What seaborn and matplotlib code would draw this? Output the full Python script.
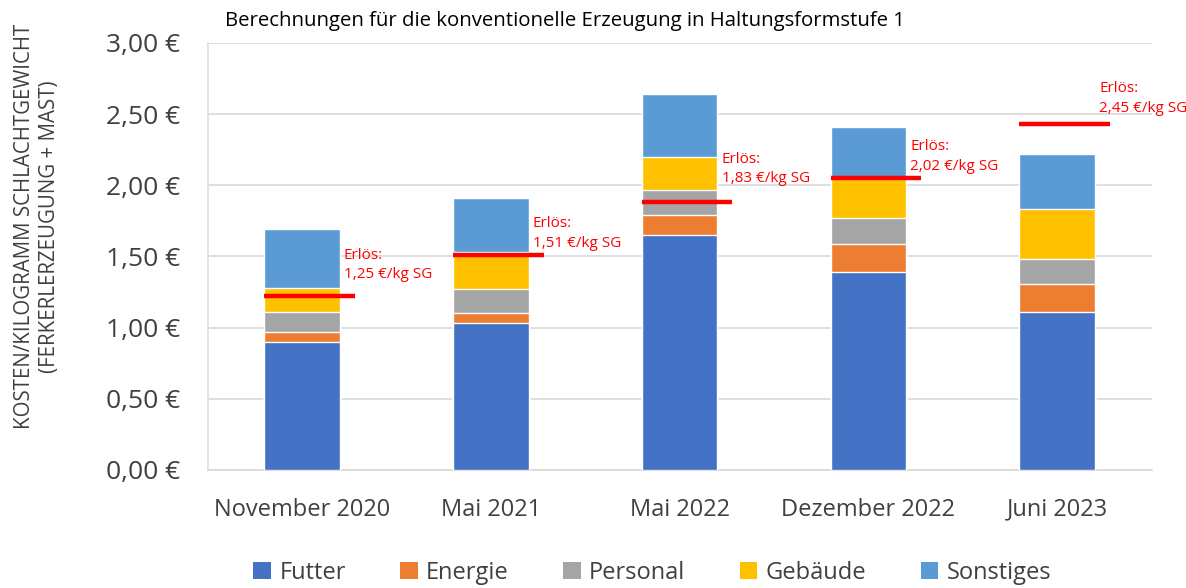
import matplotlib
matplotlib.use("Agg")
import matplotlib.pyplot as plt
import seaborn as sns
import numpy as np
import pandas as pd
from matplotlib.patches import Patch

# ---- data ----
months = ["November 2020", "Mai 2021", "Mai 2022", "Dezember 2022", "Juni 2023"]
futter = [0.90, 1.03, 1.65, 1.39, 1.11]
energie = [0.07, 0.07, 0.14, 0.20, 0.20]
personal = [0.14, 0.17, 0.18, 0.18, 0.17]
gebaeude = [0.17, 0.26, 0.23, 0.29, 0.35]
sonstiges = [0.41, 0.38, 0.44, 0.35, 0.39]
erloes = [1.22, 1.51, 1.88, 2.05, 2.43]
erloes_labels = ["1,25 €/kg SG", "1,51 €/kg SG", "1,83 €/kg SG", "2,02 €/kg SG", "2,45 €/kg SG"]
series_names = ["Futter", "Energie", "Personal", "Gebäude", "Sonstiges"]
yticks = [0.0, 0.5, 1.0, 1.5, 2.0, 2.5, 3.0]
ytick_labels = ["0,00 €", "0,50 €", "1,00 €", "1,50 €", "2,00 €", "2,50 €", "3,00 €"]

colors = ["#4472C4", "#ED7D31", "#A5A5A5", "#FFC000", "#5B9BD5"]

sns.set_theme(style="white")
plt.rcParams["font.family"] = ["Open Sans", "DejaVu Sans"]

fig = plt.figure(figsize=(11.86, 5.88), dpi=100)
ax = fig.add_axes([0.175, 0.2007, 0.796, 0.7263])

series = [futter, energie, personal, gebaeude, sonstiges]
cum = np.cumsum(np.array(series), axis=0)

# draw from top (largest cumulative) to bottom
for i in range(len(series) - 1, -1, -1):
    df = pd.DataFrame({"Monat": months, "Wert": cum[i]})
    sns.barplot(data=df, x="Monat", y="Wert", color=colors[i], saturation=1,
                width=0.4, ax=ax, zorder=3, errorbar=None)

# revenue lines and labels
label_dy = [-24, -14, -26, -14, -18]  # px offsets of label second line relative to line
for k, (val, lab) in enumerate(zip(erloes, erloes_labels)):
    ax.hlines(val, k - 0.2, k + 0.28, color="#FF0000", lw=3.2, zorder=5)
    ax.annotate("Erlös:\n" + lab, xy=(k + 0.2, val), xytext=(3, -label_dy[k] * 0.72 - 7),
                textcoords="offset points", ha="left", va="bottom",
                color="#FF0000", fontsize=11, linespacing=1.4, zorder=6)

ax.set_xlim(-0.5, 4.5)
ax.set_ylim(0, 3.0)
ax.set_yticks(yticks)
ax.set_yticklabels(ytick_labels, fontsize=19, color="#404040")
ax.tick_params(axis="x", labelsize=17, colors="#404040", pad=20, length=0)
ax.tick_params(axis="y", length=0, pad=20)
ax.set_xlabel("")
ax.set_ylabel("")
fig.text(0.031, 0.615, "KOSTEN/KILOGRAMM SCHLACHTGEWICHT\n(FERKERLERZEUGUNG + MAST)",
         rotation=90, fontsize=14.8, color="#404040", ha="center", va="center",
         linespacing=1.25, multialignment="center")
ax.yaxis.grid(True, color="#D9D9D9", lw=1.2, zorder=0)
ax.set_axisbelow(True)
for s in ["top", "right"]:
    ax.spines[s].set_visible(False)
ax.spines["left"].set_color("#E0E0E0")
ax.spines["bottom"].set_color("#D9D9D9")
ax.spines["bottom"].set_linewidth(1.2)

fig.text(0.19, 0.965, "Berechnungen für die konventionelle Erzeugung in Haltungsformstufe 1",
         fontsize=14.7, color="#000000", ha="left", va="center")

handles = [Patch(facecolor=c, edgecolor="none") for c in colors]
fig.legend(handles, series_names, loc="center", bbox_to_anchor=(0.55, 0.026), ncol=5,
           frameon=False, fontsize=17, handlelength=0.75, handleheight=0.75,
           handletextpad=0.35, columnspacing=2.3, labelcolor="#404040")

fig.savefig("out.png", dpi=100)
